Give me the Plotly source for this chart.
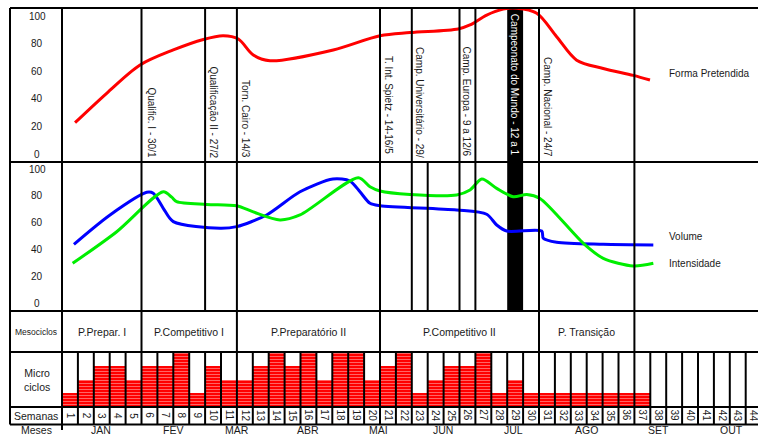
import plotly.graph_objects as go

# ---------------- data ----------------
# curve points: x in week units (week n spans [n-1, n]), y in % (0-100 scale)
forma_x = [0.82, 2.81, 4.91, 7.0, 8.89, 10.14, 11.09, 12.03, 13.08, 17.06, 20.0, 21.89,
           24.92, 25.66, 26.71, 27.75, 28.6, 29.86, 31.11, 32.37, 34.04, 35.93, 36.98]
forma_y = [22.7, 44, 64.5, 75.4, 83, 85.7, 83.3, 71.7, 67.6, 75.4, 85.7, 88,
           90.6, 93.5, 100.7, 105, 105.6, 102, 85, 68, 62, 57, 53.6]

volume_x = [0.75, 3.02, 5.33, 5.74, 6.37, 7.0, 9.94, 10.99, 12.87, 14.97, 17.04, 18.11,
            18.74, 19.37, 20.0, 24.82, 26.71, 27.34, 27.97, 30.17, 30.27, 31.11, 34.04, 37.19]
volume_y = [43.8, 65.7, 82.6, 81.9, 70.7, 60.7, 55.7, 57, 65.7, 83, 92.5, 91,
            83, 74.4, 72.6, 69.4, 66.2, 58.2, 53.7, 53.7, 48.3, 45.3, 43.8, 43.3]

intens_x = [0.67, 3.44, 6.37, 6.9, 7.21, 9.1, 10.99, 12.03, 13.71, 14.97, 18.64, 19.37,
            20.0, 21.89, 24.82, 25.66, 26.4, 27.34, 28.38, 29.23, 30.06, 32.79, 34.04, 35.93, 37.19]
intens_y = [29.6, 53.2, 83, 79, 75.6, 73.6, 72.6, 68, 62, 65.7, 93.5, 86.8,
            83.6, 81, 80.6, 84.3, 92.5, 85.5, 79.3, 81, 78, 44.5, 33.3, 27.6, 29.6]

y_ticks = [0, 20, 40, 60, 80, 100]

weeks = list(range(1, 45))
micro_levels = [1, 2, 3, 3, 2, 3, 3, 4, 1, 3, 2, 2, 3, 4, 3, 4, 2, 4, 4, 2,
                3, 4, 1, 2, 3, 3, 4, 1, 2, 1, 1, 1, 1, 1, 1, 1, 1,
                0, 0, 0, 0, 0, 0, 0]

months = ["JAN", "FEV", "MAR", "ABR", "MAI", "JUN", "JUL", "AGO", "SET", "OUT"]
month_pos = [2.45, 6.98, 11.0, 15.5, 19.9, 23.96, 28.4, 33.0, 37.5, 42.1]

meso_names = ["P.Prepar. I", "P.Competitivo I", "P.Preparatório II", "P.Competitivo II", "P. Transição"]
meso_bounds = [0, 5, 11, 20, 30, 36]

events = ["Qualific. I - 30/1", "Qualificação II - 27/2", "Torn. Cairo - 14/3",
          "T. Int. Spietz - 14-16/5", "Camp. Universitário - 29/", "Camp. Europa - 9 a 12/6",
          "Campeonato do Mundo - 12 a 1", "Camp. Nacional - 24/7"]
event_week = [5.57, 9.53, 11.57, 20.57, 22.48, 25.5, 28.5, 30.5]

top_lines = [5, 9, 11, 20, 22, 25, 26, 30, 36]
mid_lines = [5, 9, 11, 20, 22, 23, 25, 26, 30, 36]
champ_week = [28, 29]

# ---------------- layout geometry ----------------
W, H = 758, 435
LEFT_PX, WEEK0_PX, WEEK_PX = 10.0, 62.0, 15.9
TOP, P1, P2, MESO, MICRO, SEM = 8, 162, 311, 352, 407, 424.5
FONT = "Liberation Sans, Arial, sans-serif"
TXT = "#1a1a1a"


def yp(px):
    return 1 - px / H


def xp(px):
    return px / W


fig = go.Figure()

fig.add_trace(go.Scatter(x=forma_x, y=forma_y, mode="lines", yaxis="y",
                         line=dict(color="#ff0000", width=3, shape="spline", smoothing=0.9),
                         hoverinfo="skip"))
fig.add_trace(go.Scatter(x=volume_x, y=volume_y, mode="lines", yaxis="y2",
                         line=dict(color="#0000ff", width=3, shape="spline", smoothing=0.8),
                         hoverinfo="skip"))
fig.add_trace(go.Scatter(x=intens_x, y=intens_y, mode="lines", yaxis="y2",
                         line=dict(color="#00ee00", width=3, shape="spline", smoothing=0.8),
                         hoverinfo="skip"))
fig.add_trace(go.Bar(x=[w - 0.5 for w in weeks], y=micro_levels, width=1.0, yaxis="y3",
                     marker=dict(color="#ff0000", line=dict(width=0),
                                 pattern=dict(shape="-", fgcolor="#ffc8c8", bgcolor="#ff0000",
                                              size=3, solidity=0.35, fillmode="overlay")),
                     hoverinfo="skip"))

shapes = []


def hline(px, w=2):
    shapes.append(dict(type="line", xref="paper", yref="paper", x0=xp(LEFT_PX), x1=1,
                       y0=yp(px), y1=yp(px), line=dict(color="black", width=w)))


def vline(week, top_px, bot_px, w=2):
    shapes.append(dict(type="line", xref="x", yref="paper", x0=week, x1=week,
                       y0=yp(bot_px), y1=yp(top_px), line=dict(color="black", width=w)))


shapes.append(dict(type="rect", xref="x", yref="paper", x0=champ_week[0], x1=champ_week[1],
                   y0=yp(P2), y1=yp(TOP), fillcolor="black", line=dict(width=0), layer="below"))
for p in (TOP, P1, P2, MESO, MICRO, SEM):
    hline(p)
shapes.append(dict(type="line", xref="paper", yref="paper", x0=xp(LEFT_PX), x1=xp(LEFT_PX),
                   y0=yp(SEM), y1=yp(TOP), line=dict(color="black", width=2)))
vline(0, TOP, 430)
for w in top_lines:
    vline(w, TOP, P1)
for w in mid_lines:
    vline(w, P1, P2)
for w in meso_bounds[1:]:
    vline(w, P2, MESO)
for w in weeks:
    vline(w, MESO, SEM)

ann = []


def text(x, y, s, size=10, xref="paper", yref="paper", **kw):
    d = dict(x=x, y=y, text=s, xref=xref, yref=yref, showarrow=False,
             xanchor="center", yanchor="middle",
             font=dict(family=FONT, size=size, color=kw.pop("color", TXT)))
    d.update(kw)
    ann.append(d)


# y tick labels through the panel axes
for v in y_ticks:
    text(xp(37), v, str(v), yref="y")
    text(xp(37), v, str(v), yref="y2")

# event labels (rotated)
event_top = [86, 65, 79, 55, 46, 46, 13, 56]
for s, wx, tp in zip(events, event_week, event_top):
    text(wx, yp(tp - 1), s, xref="x", textangle=90, yanchor="top",
         color="white" if "Mundo" in s else TXT)

# right-side legend labels
text(xp(667), yp(73), "Forma Pretendida", xanchor="left")
text(xp(667), yp(236), "Volume", xanchor="left")
text(xp(667), yp(263), "Intensidade", xanchor="left")

# left column labels
text(xp(36), yp(332), "Mesociclos", size=8.5)
text(xp(37), yp(380), "Micro<br>ciclos", size=10.5)
text(xp(36), yp(415.5), "Semanas", size=10.5)
text(xp(36.5), yp(429.6), "Meses", size=10.5)

# mesocycle names
for name, a, b in zip(meso_names, meso_bounds[:-1], meso_bounds[1:]):
    text((a + b) / 2, yp(332), name, size=10.5, xref="x")

# week numbers
for w in weeks:
    text(w - 0.5, yp(415.7), str(w), size=10, xref="x", textangle=90)

# months
for m, pos in zip(months, month_pos):
    text(pos, yp(429.6), m, size=10.5, xref="x")

x_min = (0 - WEEK0_PX) / WEEK_PX
x_max = (W - WEEK0_PX) / WEEK_PX

fig.update_layout(
    width=W, height=H,
    margin=dict(l=0, r=0, t=0, b=0),
    paper_bgcolor="white", plot_bgcolor="white",
    showlegend=False,
    shapes=shapes, annotations=ann,
    xaxis=dict(range=[x_min, x_max], visible=False, domain=[0, 1]),
    yaxis=dict(domain=[yp(P1), yp(TOP)], range=[(154 - P1) / 1.38, (154 - TOP) / 1.38],
               visible=False),
    yaxis2=dict(domain=[yp(P2), yp(P1)], range=[(303 - P2) / 1.34, (303 - P1) / 1.34],
                visible=False),
    yaxis3=dict(domain=[yp(MICRO), yp(MESO)], range=[0, (MICRO - MESO) / 13.6], visible=False),
    bargap=0,
)

fig.write_html("out.html", config={"displayModeBar": False, "staticPlot": True},
               post_script="document.body.style.margin='0';document.body.style.overflow='hidden';")
